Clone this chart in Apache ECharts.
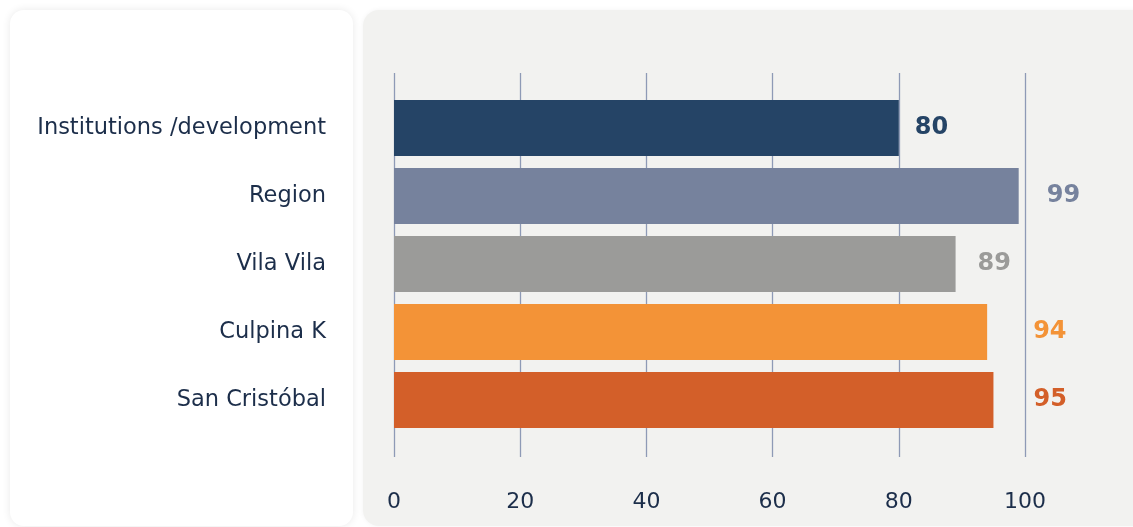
<!DOCTYPE html>
<html>
<head>
<meta charset="utf-8">
<script src="https://cdn.jsdelivr.net/npm/echarts@6/dist/echarts.min.js"></script>
<style>
  html, body { margin: 0; padding: 0; background: #ffffff; overflow: hidden; }
  #wrap { position: relative; width: 1133px; height: 527px; overflow: hidden; }
  .card { position: absolute; }
  #leftCard { left: 10px; top: 10px; width: 343px; height: 516px; background: #ffffff; border-radius: 14px; box-shadow: 0 0 8px rgba(0,0,0,0.09); }
  #rightCard { left: 363px; top: 10px; width: 800px; height: 516px; background: #f2f2f0; border-radius: 16px; box-shadow: 0 0 5px rgba(0,0,0,0.05); }
  #chart { position: absolute; left: 0; top: 0; width: 1133px; height: 527px; }
</style>
</head>
<body>
<div id="wrap">
  <div class="card" id="leftCard"></div>
  <div class="card" id="rightCard"></div>
  <div id="chart"></div>
</div>
<script>
const categories = ['Institutions /development', 'Region', 'Vila Vila', 'Culpina K', 'San Cristóbal'];
const values = [80, 99, 89, 94, 95];
const xTicks = [0, 20, 40, 60, 80, 100];

const barColors = ['#254466', '#76829d', '#9b9b99', '#f39337', '#d35f29'];
const labelGaps = [16, 28, 22, 46, 40];

const chart = echarts.init(document.getElementById('chart'), null, { renderer: 'canvas' });

const textColor = '#1c2e4a';
const fontFamily = '"DejaVu Sans", "Open Sans", sans-serif';

const option = {
  backgroundColor: 'transparent',
  animation: false,
  grid: [
    { left: 394, width: 631, top: 94, height: 340 },
    { left: 394, width: 631, top: 73, height: 384 }
  ],
  xAxis: [
    {
      gridIndex: 0, type: 'value', min: 0, max: 100, interval: 20,
      axisLine: { show: false }, axisTick: { show: false },
      axisLabel: { show: false }, splitLine: { show: false }
    },
    {
      gridIndex: 1, type: 'value', min: xTicks[0], max: xTicks[xTicks.length - 1], interval: 20,
      axisLine: { show: false }, axisTick: { show: false },
      axisLabel: { color: textColor, fontSize: 22, fontFamily: fontFamily, margin: 34 },
      splitLine: { show: true, lineStyle: { color: '#8e9ab6', width: 1.3 } }
    }
  ],
  yAxis: [
    {
      gridIndex: 0, type: 'category', data: categories, inverse: true,
      axisLine: { show: false }, axisTick: { show: false },
      axisLabel: { color: textColor, fontSize: 22.5, fontFamily: fontFamily, margin: 68 }
    },
    {
      gridIndex: 1, type: 'value', show: false
    }
  ],
  series: [
    {
      type: 'bar',
      xAxisIndex: 0, yAxisIndex: 0,
      barWidth: 56,
      data: values.map((v, i) => ({
        value: v,
        itemStyle: { color: barColors[i] },
        label: { color: barColors[i], distance: labelGaps[i] }
      })),
      label: {
        show: true, position: 'right',
        fontSize: 24, fontWeight: 'bold', fontFamily: fontFamily
      }
    }
  ]
};
chart.setOption(option);
</script>
</body>
</html>
